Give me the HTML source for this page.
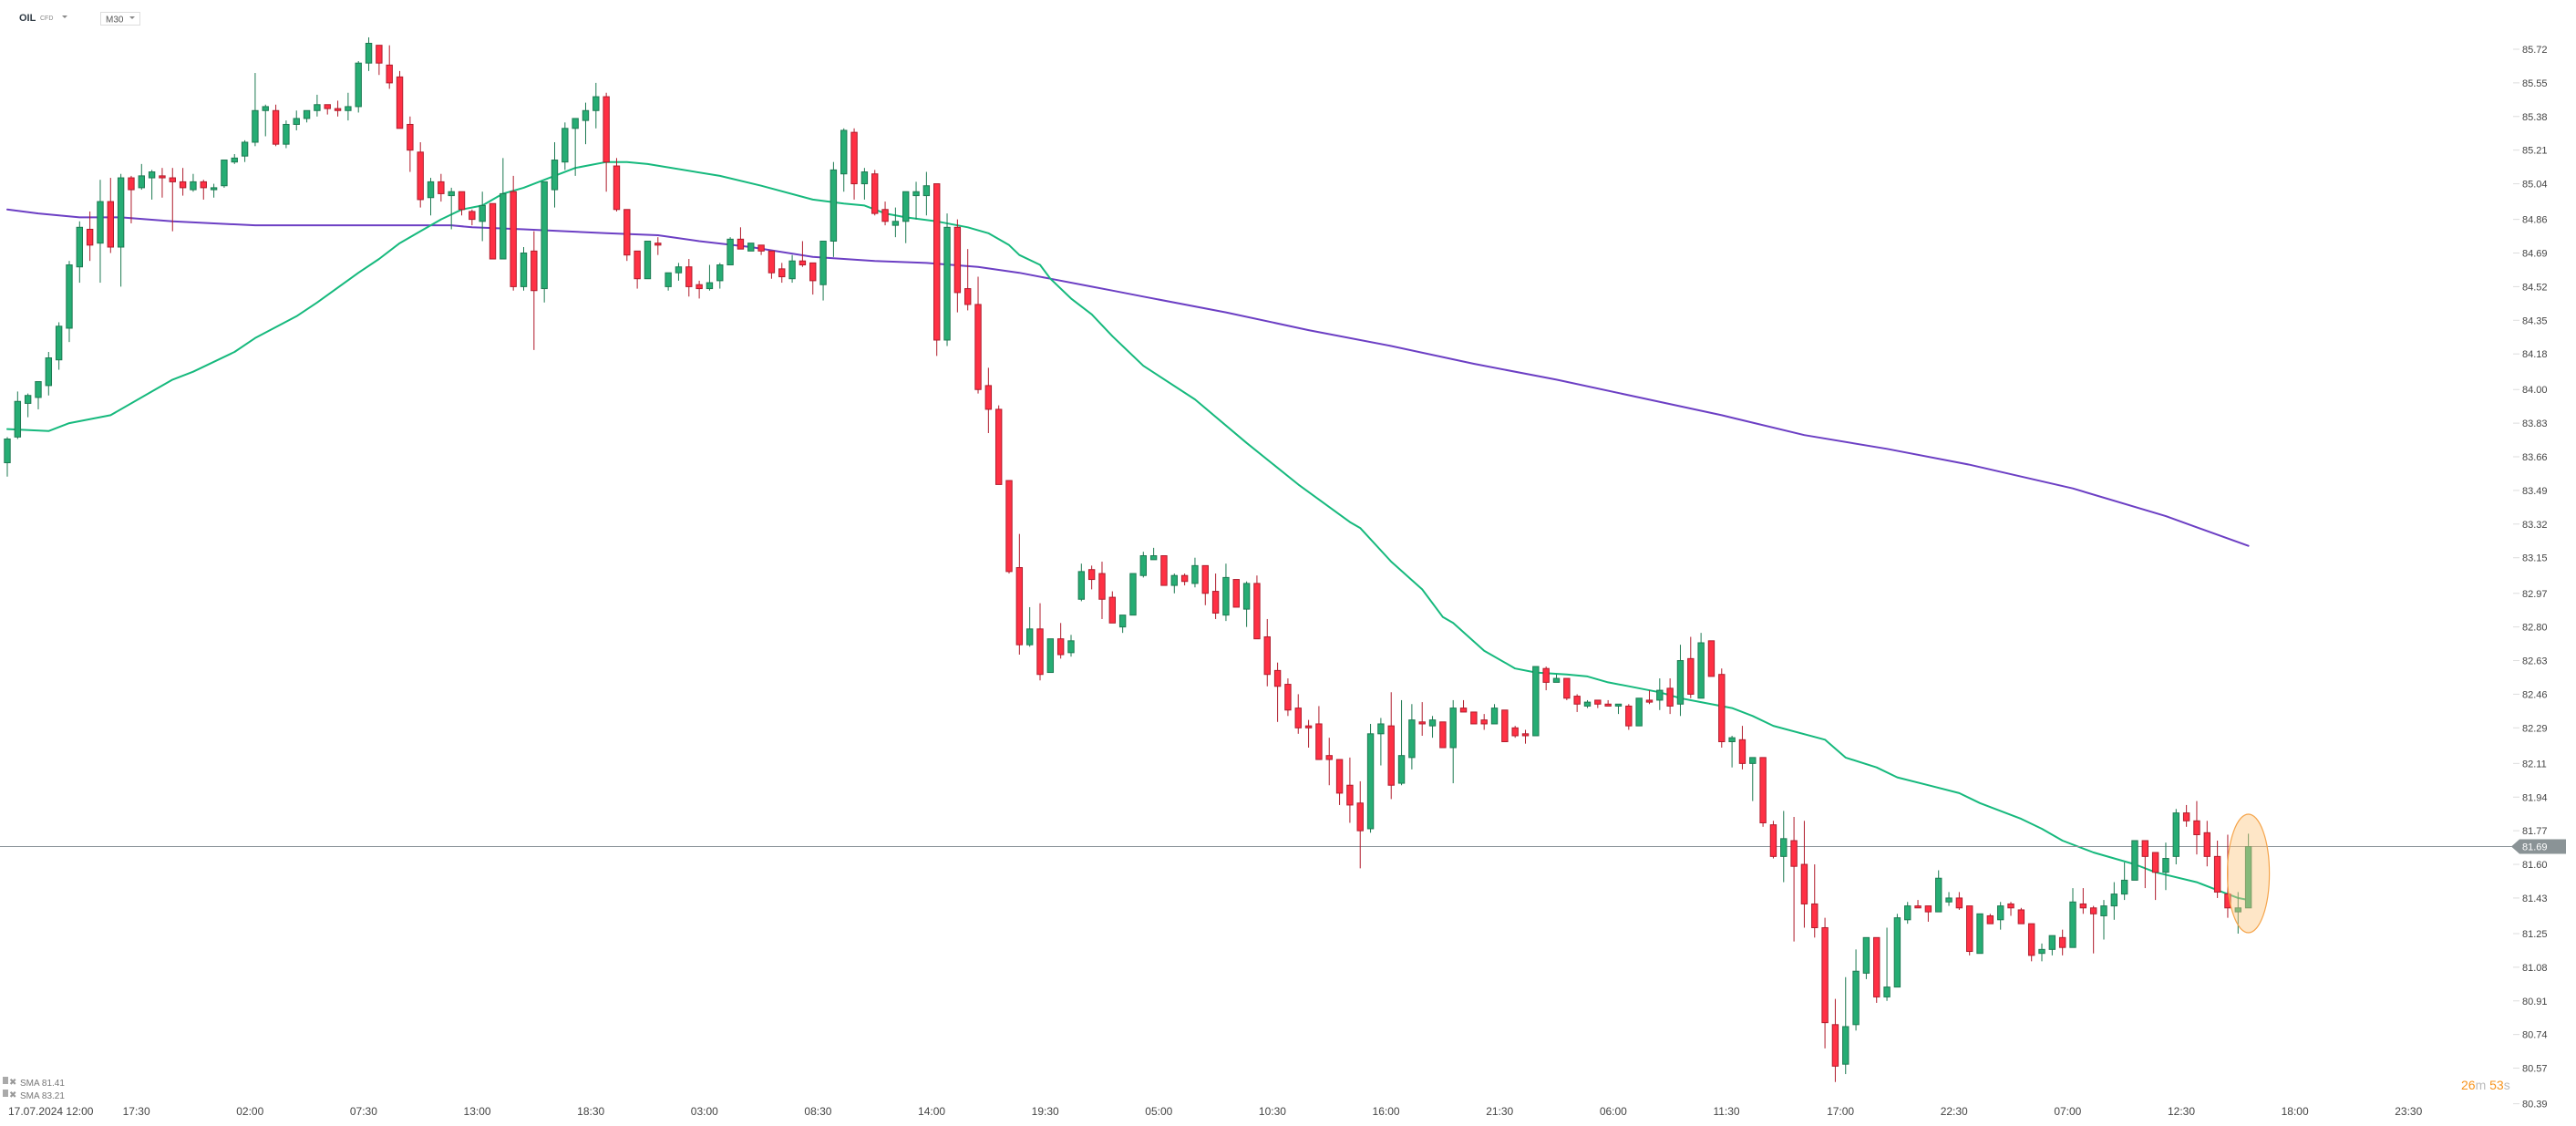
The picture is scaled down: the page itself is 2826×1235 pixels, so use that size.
<!DOCTYPE html>
<html><head><meta charset="utf-8"><style>
html,body{margin:0;padding:0;background:#fff;width:2826px;height:1235px;overflow:hidden}
svg{display:block;font-family:"Liberation Sans",sans-serif}
</style></head><body>
<svg id="chart" width="2826" height="1235" viewBox="0 0 2826 1235" xmlns="http://www.w3.org/2000/svg">
<g>
<text x="21" y="23" font-size="11" font-weight="bold" fill="#333d47">OIL</text>
<text x="44" y="22" font-size="7" fill="#888">CFD</text>
<path d="M68 17 L74 17 L71 20 Z" fill="#888"/>
<rect x="110.5" y="13.5" width="43" height="14" fill="#fff" stroke="#ddd"/>
<text x="116" y="24.5" font-size="10" fill="#555">M30</text>
<path d="M142 18 L148 18 L145 21 Z" fill="#888"/>
</g>
<g id="sma"></g>
<g id="candles"></g>
<g id="axis"></g>
<g id="xaxis"></g>
<g>
<rect x="3" y="1181" width="6" height="8" fill="#aaa"/>
<text x="10" y="1190" font-size="10" fill="#999">✖</text>
<text x="22" y="1191" font-size="10" fill="#777">SMA 81.41</text>
<rect x="3" y="1195" width="6" height="8" fill="#aaa"/>
<text x="10" y="1204" font-size="10" fill="#999">✖</text>
<text x="22" y="1205" font-size="10" fill="#777">SMA 83.21</text>
</g>
<text x="2700" y="1195" font-size="14"><tspan fill="#f7941d">26</tspan><tspan fill="#bbb">m </tspan><tspan fill="#f7941d">53</tspan><tspan fill="#bbb">s</tspan></text>
</svg>
<script>
const opens=[83.63,83.76,83.93,83.96,84.02,84.15,84.31,84.62,84.81,84.74,84.95,84.72,85.07,85.02,85.07,85.08,85.07,85.05,85.01,85.05,85.01,85.03,85.15,85.18,85.25,85.41,85.41,85.24,85.34,85.37,85.41,85.44,85.42,85.41,85.43,85.65,85.74,85.64,85.58,85.34,85.20,84.97,85.05,84.98,85.00,84.90,84.85,84.94,84.66,85.00,84.52,84.70,84.51,85.01,85.15,85.32,85.36,85.41,85.48,85.13,84.91,84.70,84.56,84.74,84.52,84.59,84.62,84.53,84.51,84.55,84.63,84.76,84.70,84.73,84.70,84.61,84.56,84.65,84.64,84.53,84.75,85.09,85.30,85.04,85.09,84.91,84.83,84.85,84.98,84.98,85.04,84.25,84.82,84.51,84.43,84.02,83.90,83.54,83.10,82.71,82.79,82.57,82.74,82.67,82.94,83.09,83.07,82.95,82.80,82.86,83.06,83.14,83.16,83.01,83.06,83.02,83.11,82.98,82.86,83.04,82.89,83.02,82.75,82.58,82.51,82.39,82.30,82.31,82.15,82.13,82.00,81.91,81.78,82.26,82.30,82.01,82.14,82.32,82.30,82.32,82.19,82.39,82.37,82.33,82.31,82.38,82.29,82.26,82.25,82.59,82.52,82.54,82.45,82.40,82.43,82.41,82.40,82.40,82.30,82.43,82.43,82.49,82.41,82.64,82.44,82.73,82.56,82.22,82.23,82.11,82.14,81.80,81.64,81.72,81.60,81.40,81.28,80.79,80.59,80.79,81.05,81.23,80.93,80.98,81.32,81.39,81.39,81.36,81.41,81.43,81.39,81.15,81.34,81.32,81.40,81.37,81.30,81.15,81.17,81.23,81.18,81.40,81.38,81.34,81.39,81.45,81.52,81.72,81.66,81.56,81.64,81.86,81.82,81.76,81.64,81.45,81.36,81.38];
const highs=[83.76,83.99,83.98,84.04,84.19,84.34,84.65,84.85,84.90,85.06,85.07,85.09,85.08,85.14,85.11,85.12,85.12,85.12,85.09,85.06,85.04,85.16,85.19,85.26,85.60,85.44,85.44,85.36,85.41,85.41,85.49,85.44,85.46,85.50,85.66,85.78,85.74,85.74,85.61,85.38,85.25,85.07,85.09,85.02,85.00,84.91,85.00,84.94,85.17,85.08,84.72,84.80,85.05,85.25,85.35,85.37,85.45,85.55,85.50,85.17,84.91,84.70,84.75,84.77,84.59,84.64,84.66,84.55,84.63,84.64,84.77,84.82,84.74,84.73,84.70,84.64,84.68,84.75,84.64,84.75,85.15,85.32,85.32,85.12,85.11,84.95,84.92,85.00,85.05,85.10,85.04,84.89,84.86,84.71,84.57,84.11,83.92,83.54,83.27,82.90,82.92,82.74,82.82,82.76,83.12,83.11,83.13,82.98,82.86,83.07,83.18,83.20,83.16,83.07,83.07,83.15,83.11,83.07,83.12,83.04,83.03,83.06,82.84,82.62,82.54,82.46,82.33,82.40,82.24,82.13,82.14,82.02,82.31,82.34,82.47,82.43,82.41,82.42,82.35,82.32,82.43,82.43,82.37,82.36,82.41,82.38,82.30,82.28,82.60,82.60,82.56,82.54,82.46,82.43,82.43,82.43,82.41,82.41,82.44,82.48,82.54,82.54,82.71,82.75,82.77,82.73,82.59,82.25,82.30,82.14,82.14,81.82,81.87,81.84,81.82,81.60,81.33,80.92,81.03,81.17,81.23,81.23,81.28,81.35,81.41,81.42,81.39,81.57,81.46,81.46,81.39,81.35,81.35,81.41,81.41,81.38,81.30,81.20,81.24,81.27,81.48,81.48,81.39,81.42,81.51,81.61,81.72,81.72,81.66,81.71,81.88,81.90,81.92,81.82,81.72,81.75,81.46,81.755];
const lows=[83.56,83.75,83.86,83.90,83.97,84.10,84.24,84.54,84.65,84.54,84.69,84.52,84.84,85.01,84.96,84.97,84.80,84.98,85.00,84.96,84.97,85.02,85.14,85.15,85.23,85.28,85.23,85.22,85.31,85.35,85.38,85.39,85.38,85.36,85.40,85.61,85.59,85.52,85.32,85.10,84.92,84.88,84.95,84.81,84.88,84.83,84.75,84.66,84.66,84.50,84.50,84.20,84.44,84.92,85.11,85.08,85.24,85.32,85.00,84.90,84.65,84.51,84.56,84.68,84.50,84.55,84.47,84.46,84.50,84.51,84.63,84.71,84.70,84.68,84.56,84.54,84.54,84.62,84.48,84.45,84.67,85.00,84.96,84.96,84.88,84.83,84.77,84.74,84.86,84.88,84.17,84.22,84.39,84.40,83.98,83.78,83.52,83.07,82.66,82.70,82.53,82.57,82.64,82.65,82.93,82.99,82.84,82.82,82.77,82.86,83.05,83.14,83.01,82.97,83.01,83.00,82.91,82.84,82.83,82.90,82.80,82.74,82.50,82.32,82.35,82.26,82.19,82.13,82.00,81.90,81.81,81.58,81.76,82.10,81.93,82.00,82.08,82.25,82.24,82.19,82.01,82.37,82.31,82.28,82.31,82.22,82.24,82.21,82.25,82.48,82.52,82.43,82.37,82.39,82.39,82.40,82.36,82.28,82.30,82.41,82.38,82.36,82.35,82.44,82.44,82.55,82.19,82.09,82.08,81.92,81.79,81.63,81.51,81.21,81.28,81.23,80.67,80.50,80.54,80.76,81.02,80.90,80.91,80.98,81.30,81.38,81.31,81.36,81.39,81.37,81.14,81.15,81.30,81.27,81.34,81.30,81.11,81.11,81.14,81.14,81.18,81.35,81.15,81.22,81.32,81.42,81.52,81.48,81.42,81.47,81.60,81.79,81.65,81.59,81.43,81.33,81.25,81.38];
const closes=[83.75,83.94,83.97,84.04,84.16,84.32,84.63,84.82,84.73,84.95,84.72,85.07,85.01,85.08,85.10,85.07,85.05,85.02,85.05,85.02,85.02,85.16,85.17,85.25,85.41,85.43,85.24,85.34,85.37,85.41,85.44,85.42,85.41,85.43,85.65,85.75,85.65,85.55,85.32,85.21,84.96,85.05,84.99,85.00,84.91,84.86,84.93,84.66,84.99,84.52,84.69,84.50,85.05,85.16,85.32,85.37,85.41,85.48,85.15,84.91,84.68,84.56,84.75,84.73,84.59,84.62,84.52,84.51,84.54,84.63,84.76,84.71,84.74,84.70,84.59,84.57,84.65,84.63,84.55,84.75,85.11,85.31,85.04,85.10,84.89,84.85,84.85,85.00,85.00,85.03,84.25,84.82,84.49,84.43,84.00,83.90,83.52,83.08,82.71,82.79,82.56,82.74,82.66,82.73,83.08,83.04,82.94,82.82,82.86,83.07,83.16,83.16,83.01,83.06,83.03,83.11,82.97,82.87,83.05,82.90,83.02,82.74,82.56,82.50,82.38,82.29,82.29,82.13,82.13,81.96,81.90,81.77,82.26,82.31,82.00,82.15,82.33,82.31,82.33,82.19,82.39,82.37,82.31,82.31,82.39,82.22,82.25,82.25,82.60,82.52,82.54,82.44,82.41,82.42,82.41,82.40,82.41,82.30,82.44,82.42,82.48,82.40,82.63,82.46,82.72,82.55,82.22,82.24,82.11,82.14,81.81,81.64,81.73,81.59,81.40,81.28,80.80,80.58,80.78,81.06,81.23,80.93,80.98,81.33,81.39,81.38,81.36,81.53,81.43,81.38,81.16,81.35,81.30,81.39,81.38,81.30,81.14,81.17,81.24,81.18,81.41,81.38,81.35,81.39,81.45,81.52,81.72,81.64,81.56,81.63,81.86,81.82,81.75,81.64,81.46,81.38,81.38,81.69];
const smaFastIdx=[0,4,6,10,14,16,18,22,24,28,30,34,36,38,40,42,44,46,48,50,52,55,58,60,62,69,73,78,81,83,85,87,90,93,95,97,98,100,101,103,105,107,110,115,120,125,130,131,134,137,139,140,143,146,148,151,153,155,157,160,162,164,167,169,171,176,178,181,183,186,189,191,195,197,199,202,206,208,212,214,216,217];
const smaFastVal=[83.80,83.79,83.83,83.87,83.99,84.05,84.09,84.19,84.26,84.37,84.44,84.59,84.66,84.74,84.80,84.86,84.91,84.93,84.99,85.02,85.06,85.12,85.15,85.15,85.14,85.08,85.03,84.96,84.94,84.93,84.89,84.87,84.85,84.82,84.79,84.73,84.68,84.63,84.56,84.46,84.38,84.27,84.12,83.95,83.73,83.52,83.33,83.30,83.13,82.99,82.85,82.82,82.68,82.59,82.57,82.56,82.55,82.52,82.50,82.47,82.44,82.42,82.39,82.35,82.30,82.23,82.14,82.09,82.04,82.00,81.96,81.91,81.83,81.78,81.72,81.66,81.60,81.56,81.51,81.47,81.43,81.42];
const smaSlowIdx=[0,3,7,11,16,20,24,31,34,38,43,45,50,54,58,63,67,72,78,84,89,94,98,101,105,107,110,118,126,134,142,150,158,166,174,182,190,200,209,217];
const smaSlowVal=[84.91,84.89,84.87,84.87,84.85,84.84,84.83,84.83,84.83,84.83,84.83,84.82,84.81,84.80,84.79,84.78,84.75,84.72,84.67,84.65,84.64,84.62,84.59,84.56,84.52,84.50,84.47,84.39,84.30,84.22,84.13,84.05,83.96,83.87,83.77,83.70,83.62,83.50,83.36,83.21];
const priceTicks=["85.72","85.55","85.38","85.21","85.04","84.86","84.69","84.52","84.35","84.18","84.00","83.83","83.66","83.49","83.32","83.15","82.97","82.80","82.63","82.46","82.29","82.11","81.94","81.77","81.60","81.43","81.25","81.08","80.91","80.74","80.57","80.39"];
const timeLabels=["17:30","02:00","07:30","13:00","18:30","03:00","08:30","14:00","19:30","05:00","10:30","16:00","21:30","06:00","11:30","17:00","22:30","07:00","12:30","18:00","23:30"];
const timeLabelBars=[11,22,33,44,55,66,77,88,99,110,121,132,143,154,165,176,187,198,209,220,231];
const lastPrice=81.69;

const NS="http://www.w3.org/2000/svg";
function yOf(p){return 54+(85.72-p)*217;}
function xOf(i){return 8+i*11.33;}
function mk(tag,attrs,parent){const e=document.createElementNS(NS,tag);for(const k in attrs)e.setAttribute(k,attrs[k]);parent.appendChild(e);return e;}
const gC=document.getElementById('candles'),gS=document.getElementById('sma'),gA=document.getElementById('axis'),gX=document.getElementById('xaxis');

function line(idx,val,color,name){
  let d='';for(let k=0;k<idx.length;k++){d+=(k?'L':'M')+xOf(idx[k]).toFixed(1)+' '+yOf(val[k]).toFixed(1);}
  const p=mk('path',{d:d,fill:'none',stroke:color,'stroke-width':2,'stroke-linejoin':'round','stroke-linecap':'round'},gS);
  
  
}
line(smaSlowIdx,smaSlowVal,'#6c3fc4','sma-slow-line');
line(smaFastIdx,smaFastVal,'#16b97d','sma-fast-line');

const lp=mk('line',{x1:0,x2:2756,y1:yOf(lastPrice),y2:yOf(lastPrice),stroke:'#8a9399','stroke-width':1},gC);



for(let i=0;i<opens.length;i++){
  const up=closes[i]>=opens[i];
  const x=xOf(i);
  const g=mk('g',{},gC);
  
  
  mk('line',{x1:x,x2:x,y1:yOf(highs[i]),y2:yOf(lows[i]),stroke:up?'#1d7a52':'#b01c2c','stroke-width':1},g);
  const top=yOf(Math.max(opens[i],closes[i])),bot=yOf(Math.min(opens[i],closes[i]));
  mk('rect',{x:x-3.2,y:top,width:6.4,height:Math.max(1.5,bot-top),fill:up?'#26ad74':'#ff3044',stroke:up?'#1d7a52':'#b01c2c','stroke-width':1},g);
}

const el=mk('ellipse',{cx:xOf(opens.length-1),cy:958,rx:23,ry:65,fill:'rgba(252,200,130,0.45)',stroke:'#f5a44a','stroke-width':1.2},gC);



for(const t of priceTicks){
  const y=yOf(parseFloat(t));
  const tk=mk('line',{x1:2757,x2:2764,y1:y,y2:y,stroke:'#ddd'},gA);
  
  
  const tx=mk('text',{x:2767,y:y+4,'font-size':11,fill:'#444'},gA);
  tx.textContent=t;
  
  
}
const ly=yOf(lastPrice);
const tag=mk('path',{d:`M2755 ${ly} L2764 ${ly-8} L2815 ${ly-8} L2815 ${ly+8} L2764 ${ly+8} Z`,fill:'#8a9396'},gA);


const tt=mk('text',{x:2767,y:ly+4,'font-size':11,fill:'#fff'},gA);
tt.textContent=lastPrice.toFixed(2);



const d0=mk('text',{x:9,y:1223,'font-size':12,fill:'#444'},gX);
d0.textContent='17.07.2024  12:00';


for(let k=0;k<timeLabels.length;k++){
  const t=mk('text',{x:xOf(timeLabelBars[k])+2,y:1223,'font-size':12,fill:'#444'},gX);
  t.textContent=timeLabels[k];
  
  
}
</script>
</body></html>
